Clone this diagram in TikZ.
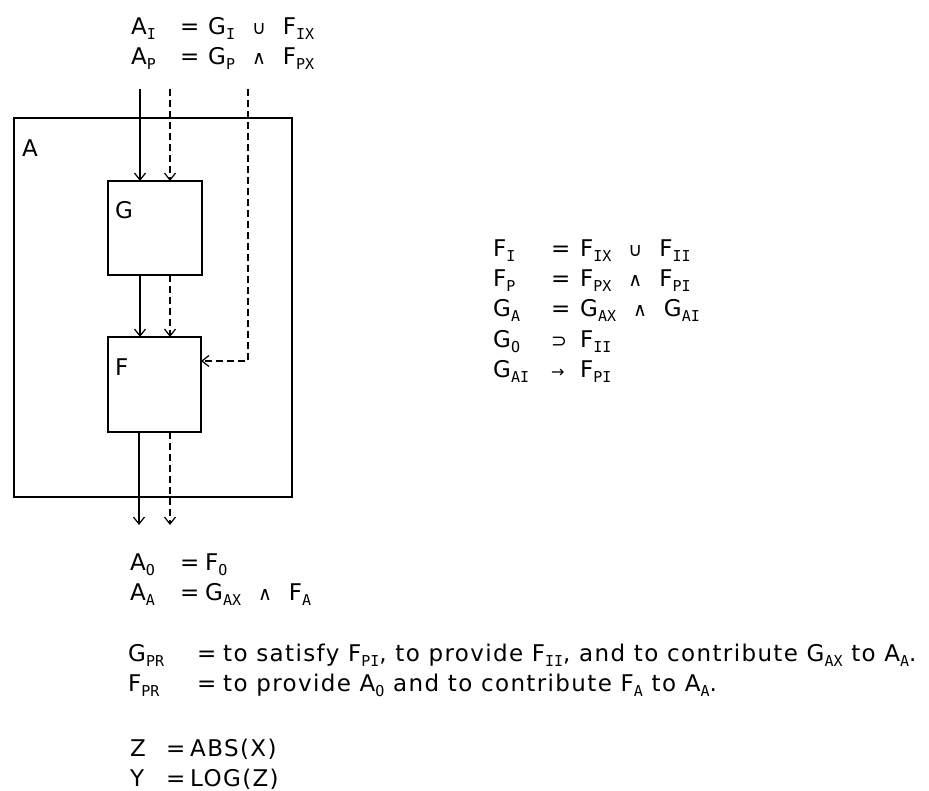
\documentclass[tikz,border=0pt]{standalone}
\usepackage{fontspec}
\setmainfont{DejaVu Sans}[LetterSpace=6.0]
\newfontfamily\monof{DejaVu Sans Mono}
\newfontfamily\symf{DejaVu Sans}
\usetikzlibrary{arrows.meta}
\newcommand\lsub[1]{\raisebox{-5pt}{\monof\fontsize{15}{15}\selectfont #1}}
\newcommand\gp{\hspace{17pt}}
\newcommand\symU{{\symf\fontsize{19}{19}\selectfont ∪}}
\newcommand\symA{{\symf\fontsize{19}{19}\selectfont ∧}}
\newcommand\symS{{\symf\fontsize{19}{19}\selectfont ⊃}}
\newcommand\symR{{\symf\fontsize{16}{16}\selectfont →}}
\begin{document}
\begin{tikzpicture}[x=1pt,y=-1pt,
  txt/.style={inner sep=0pt,anchor=base west,font=\fontsize{23}{27}\selectfont},
  box/.style={draw,line width=1.8pt},
  solidar/.style={line width=1.2pt,-{Straight Barb[length=7pt,width=11pt,line width=1.2pt]}},
  dashar/.style={line width=1.2pt,dash pattern=on 7pt off 4pt,-{Straight Barb[length=7pt,width=11pt,line width=1.2pt]}}]
\useasboundingbox (0,0) rectangle (929,790);
% boxes
\draw[box] (14,118) rectangle (292,497);
\node[txt] (la) at (22,156) {A};
\draw[box] (108,181) rectangle (202,275);
\node[txt] (lg) at (115,218) {G};
\draw[box] (108,337) rectangle (201,432);
\node[txt] (lf) at (115,375) {F};
\coordinate (g1) at (140,181);
\coordinate (g2) at (170,181);
\coordinate (g1b) at (140,275);
\coordinate (g2b) at (170,275);
\coordinate (f1) at (140,337);
\coordinate (f2) at (170,337);
\coordinate (f1b) at (139,432);
\coordinate (f2b) at (170,432);
\coordinate (fe) at (201,361);
\coordinate (t1) at (140,89);
\coordinate (t2) at (170,89);
\coordinate (t3) at (248,89);
\coordinate (c3) at (248,361);
\coordinate (o1) at (139,525);
\coordinate (o2) at (170,525);
\draw[solidar] (t1) -- (g1);
\draw[dashar] (t2) -- (g2);
\draw[solidar] (g1b) -- (f1);
\draw[dashar] (g2b) -- (f2);
\draw[dashar] (t3) -- (c3) -- (fe);
\draw[solidar] (f1b) -- (o1);
\draw[dashar] (f2b) -- (o2);
% top formulas
\node[txt] (ai) at (131,34) {A\lsub{I}};
\node[txt] (aie) at (180,34) {=};
\node[txt] (air) at (208,34) {G\lsub{I}\gp\symU\gp F\lsub{IX}};
\node[txt] (ap) at (131,64) {A\lsub{P}};
\node[txt] (ape) at (180,64) {=};
\node[txt] (apr) at (208,64) {G\lsub{P}\gp\symA\gp F\lsub{PX}};
% right formulas
\node[txt] (fi) at (493,256) {F\lsub{I}};
\node[txt] (fie) at (551,256) {=};
\node[txt] (fir) at (580,256) {F\lsub{IX}\gp\symU\gp F\lsub{II}};
\node[txt] (fp) at (493,286) {F\lsub{P}};
\node[txt] (fpe) at (551,286) {=};
\node[txt] (fpr) at (580,286) {F\lsub{PX}\gp\symA\gp F\lsub{PI}};
\node[txt] (ga) at (493,316) {G\lsub{A}};
\node[txt] (gae) at (551,316) {=};
\node[txt] (gar) at (580,316) {G\lsub{AX}\gp\symA\gp G\lsub{AI}};
\node[txt] (go) at (493,347) {G\lsub{O}};
\node[txt] (goe) at (551,347) {\symS};
\node[txt] (gor) at (580,347) {F\lsub{II}};
\node[txt] (gai) at (493,377) {G\lsub{AI}};
\node[txt] (gaie) at (551,377) {\symR};
\node[txt] (gair) at (580,377) {F\lsub{PI}};
% bottom formulas
\node[txt] (ao) at (130,570) {A\lsub{O}};
\node[txt] (aoe) at (180,570) {=};
\node[txt] (aor) at (205,570) {F\lsub{O}};
\node[txt] (aa) at (130,600) {A\lsub{A}};
\node[txt] (aae) at (180,600) {=};
\node[txt] (aar) at (205,600) {G\lsub{AX}\gp\symA\gp F\lsub{A}};
\node[txt] (gpr) at (128,661) {G\lsub{PR}};
\node[txt] (gpre) at (197,661) {=};
\node[txt] (gprr) at (223,661) {to satisfy F\lsub{PI}, to provide F\lsub{II}, and to contribute G\lsub{AX} to A\lsub{A}.};
\node[txt] (fpr2) at (128,691) {F\lsub{PR}};
\node[txt] (fpre) at (197,691) {=};
\node[txt] (fprr) at (223,691) {to provide A\lsub{O} and to contribute F\lsub{A} to A\lsub{A}.};
\node[txt] (z) at (130,756) {Z};
\node[txt] (ze) at (166,756) {=};
\node[txt] (zr) at (190,756) {ABS(X)};
\node[txt] (y) at (130,786) {Y};
\node[txt] (ye) at (166,786) {=};
\node[txt] (yr) at (190,786) {LOG(Z)};
\end{tikzpicture}
\end{document}
